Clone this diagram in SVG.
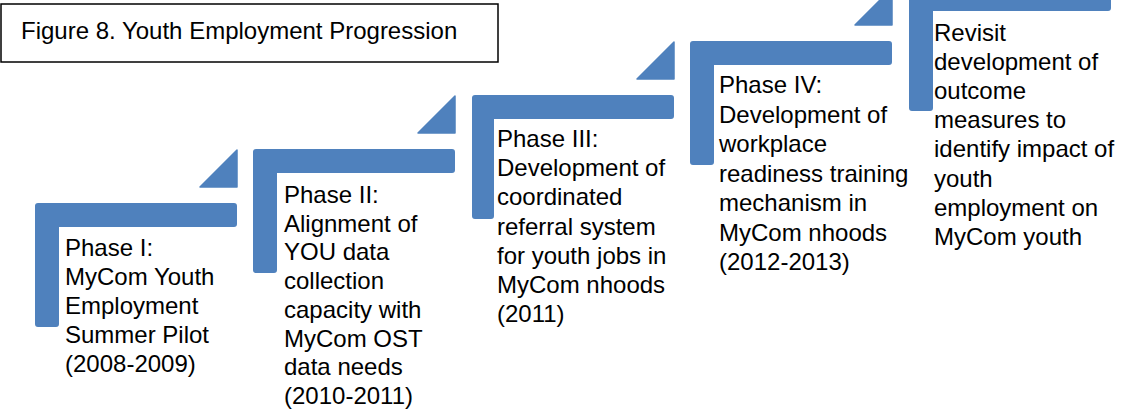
<svg xmlns="http://www.w3.org/2000/svg" width="1131" height="415" viewBox="0 0 1131 415">
<style>
.bar{fill:#4F81BD;}
.tri{fill:#4F81BD;stroke:#4F81BD;stroke-width:1.5;stroke-linejoin:round;}
.lbl{font-family:"Liberation Sans",Arial,sans-serif;font-size:24px;fill:#000;}
</style>
<rect width="1131" height="415" fill="#fff"/>
<g id="title">
<rect x="1" y="4" width="497" height="58" fill="#fff" stroke="#000" stroke-width="1.5"/>
<text class="lbl" x="21" y="39">Figure 8. Youth Employment Progression</text>
</g>
<g id="connectors">
<path class="tri" d="M200,187 L237,150 L237,187 Z"/>
<path class="tri" d="M418,133 L455,96 L455,133 Z"/>
<path class="tri" d="M637,79 L674,42 L674,79 Z"/>
<path class="tri" d="M855,25 L892,-12 L892,25 Z"/>
</g>
<g id="step1">
<path class="bar" d="M35,206 Q35,203 38,203 H234 Q237,203 237,206 V224 Q237,227 234,227 H59 V324 Q59,327 56,327 H38 Q35,327 35,324 Z"/>
<text class="lbl" x="65" y="256"><tspan x="65">Phase I:</tspan><tspan x="65" dy="29">MyCom Youth</tspan><tspan x="65" dy="29">Employment</tspan><tspan x="65" dy="29">Summer Pilot</tspan><tspan x="65" dy="29">(2008-2009)</tspan></text>
</g>
<g id="step2">
<path class="bar" d="M253,152 Q253,149 256,149 H452 Q455,149 455,152 V170 Q455,173 452,173 H277 V270 Q277,273 274,273 H256 Q253,273 253,270 Z"/>
<text class="lbl" x="284" y="203"><tspan x="284">Phase II:</tspan><tspan x="284" dy="28.7">Alignment of</tspan><tspan x="284" dy="28.7">YOU data</tspan><tspan x="284" dy="28.7">collection</tspan><tspan x="284" dy="28.7">capacity with</tspan><tspan x="284" dy="28.7">MyCom OST</tspan><tspan x="284" dy="28.7">data needs</tspan><tspan x="284" dy="28.7">(2010-2011)</tspan></text>
</g>
<g id="step3">
<path class="bar" d="M472,98 Q472,95 475,95 H671 Q674,95 674,98 V116 Q674,119 671,119 H494 V216 Q494,219 491,219 H475 Q472,219 472,216 Z"/>
<text class="lbl" x="497" y="147"><tspan x="497">Phase III:</tspan><tspan x="497" dy="29.2">Development of</tspan><tspan x="497" dy="29.2">coordinated</tspan><tspan x="497" dy="29.2">referral system</tspan><tspan x="497" dy="29.2">for youth jobs in</tspan><tspan x="497" dy="29.2">MyCom nhoods</tspan><tspan x="497" dy="29.2">(2011)</tspan></text>
</g>
<g id="step4">
<path class="bar" d="M690,44 Q690,41 693,41 H889 Q892,41 892,44 V62 Q892,65 889,65 H714 V162 Q714,165 711,165 H693 Q690,165 690,162 Z"/>
<text class="lbl" x="719" y="93"><tspan x="719">Phase IV:</tspan><tspan x="719" dy="29.5">Development of</tspan><tspan x="719" dy="29.5">workplace</tspan><tspan x="719" dy="29.5">readiness training</tspan><tspan x="719" dy="29.5">mechanism in</tspan><tspan x="719" dy="29.5">MyCom nhoods</tspan><tspan x="719" dy="29.5">(2012-2013)</tspan></text>
</g>
<g id="step5">
<path class="bar" d="M909,-10 Q909,-13 912,-13 H1108 Q1111,-13 1111,-10 V8 Q1111,11 1108,11 H933 V108 Q933,111 930,111 H912 Q909,111 909,108 Z"/>
<text class="lbl" x="934" y="41"><tspan x="934">Revisit</tspan><tspan x="934" dy="29.1">development of</tspan><tspan x="934" dy="29.1">outcome</tspan><tspan x="934" dy="29.1">measures to</tspan><tspan x="934" dy="29.1">identify impact of</tspan><tspan x="934" dy="29.1">youth</tspan><tspan x="934" dy="29.1">employment on</tspan><tspan x="934" dy="29.1">MyCom youth</tspan></text>
</g>
</svg>
